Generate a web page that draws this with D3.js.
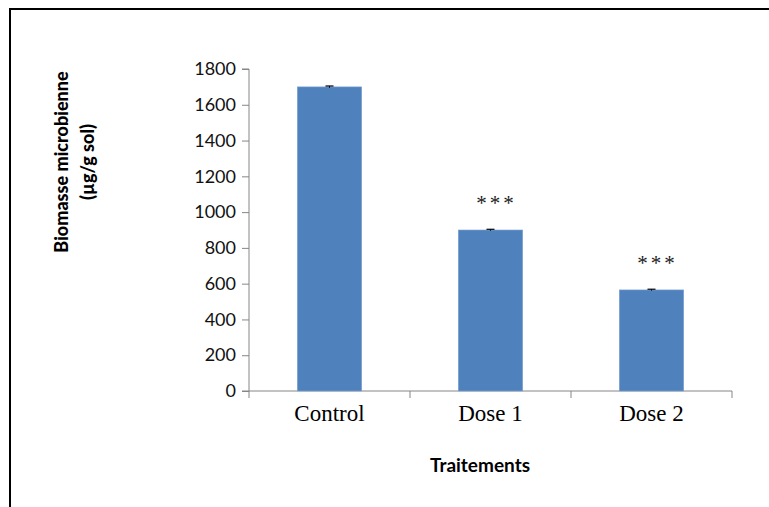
<!DOCTYPE html>
<html><head><meta charset="utf-8">
<script src="https://cdn.jsdelivr.net/npm/d3@7"></script>
<style>body{margin:0;background:#fff}svg{display:block}</style>
</head><body>
<svg id="c" width="769" height="507"></svg>
<script>
const categories = ["Control", "Dose 1", "Dose 2"];
const values = [1700, 900, 565];
const errors = [5, 4, 4];
const signif = ["", "***", "***"];
const yTicks = [0, 200, 400, 600, 800, 1000, 1200, 1400, 1600, 1800];

(function () {
const svg = d3.select("#c");
// outer frame
svg.append("rect").attr("x", 10).attr("y", 9).attr("width", 800).attr("height", 600)
  .attr("fill", "#fff").attr("stroke", "#000").attr("stroke-width", 2);

const pLeft = 249, pRight = 732, pTop = 69, pBottom = 391;
const x = d3.scaleBand().domain(categories).range([pLeft, pRight]).paddingInner(0.6).paddingOuter(0.3);
const y = d3.scaleLinear().domain([0, 1800]).range([pBottom, pTop]);

// y axis
const ya = svg.append("g").attr("transform", `translate(${pLeft},0)`)
  .call(d3.axisLeft(y).tickValues(yTicks).tickSize(7).tickPadding(6).tickFormat(d3.format("d")));
ya.select(".domain").attr("stroke", "#868686").attr("d", `M-7,${pTop}H0V${pBottom}`);
ya.selectAll(".tick line").attr("stroke", "#868686");
ya.selectAll(".tick text").attr("fill", "#111").style("font-family", "Lato, 'Open Sans', sans-serif").style("font-size", "18px");

// x axis with boundary ticks
const xb = svg.append("g");
xb.append("line").attr("x1", pLeft - 7).attr("x2", pRight).attr("y1", pBottom).attr("y2", pBottom).attr("stroke", "#868686");
const bounds = [pLeft].concat(categories.map(c => x(c) - x.step() * x.paddingInner() / 2 + x.step()));
bounds.forEach(b => xb.append("line").attr("x1", b).attr("x2", b).attr("y1", pBottom).attr("y2", pBottom + 7).attr("stroke", "#868686"));
xb.selectAll("text.cat").data(categories).enter().append("text").attr("class", "cat")
  .attr("x", d => x(d) + x.bandwidth() / 2).attr("y", pBottom + 30)
  .attr("text-anchor", "middle").style("font-family", "'Liberation Serif', serif").style("font-size", "23px").text(d => d);

// bars
svg.selectAll("rect.bar").data(values).enter().append("rect").attr("class", "bar")
  .attr("x", (d, i) => x(categories[i])).attr("width", x.bandwidth())
  .attr("y", d => y(d)).attr("height", d => pBottom - y(d))
  .attr("fill", "#4F81BD").attr("stroke", "#7FA3D3").attr("stroke-width", 0.6);

// error bars
values.forEach((v, i) => {
  const cx = x(categories[i]) + x.bandwidth() / 2;
  svg.append("line").attr("x1", cx - 4).attr("x2", cx + 4).attr("y1", y(v + errors[i])).attr("y2", y(v + errors[i])).attr("stroke", "#000").attr("stroke-width", 1.2);
  svg.append("line").attr("x1", cx).attr("x2", cx).attr("y1", y(v + errors[i])).attr("y2", y(v - errors[i])).attr("stroke", "#000");
});

// significance
svg.selectAll("text.sig").data(signif).enter().append("text").attr("class", "sig")
  .attr("x", (d, i) => x(categories[i]) + x.bandwidth() / 2 + 6).attr("y", (d, i) => y(values[i]) - 20)
  .attr("text-anchor", "middle").style("font-family", "'Liberation Serif', serif").style("font-size", "21px")
  .style("letter-spacing", "3px").attr("fill", "#222").text(d => d);

// axis titles
svg.append("text").attr("x", 480).attr("y", 472).attr("text-anchor", "middle")
  .style("font-family", "Lato, sans-serif").style("font-weight", "bold").style("font-size", "19px").text("Traitements");
const yt = svg.append("g").attr("transform", "translate(62,162) rotate(-90)");
yt.append("text").attr("x", 0).attr("y", 6).attr("text-anchor", "middle")
  .style("font-family", "Lato, sans-serif").style("font-weight", "900").style("font-size", "18px").text("Biomasse microbienne");
yt.append("text").attr("x", 0).attr("y", 32).attr("text-anchor", "middle")
  .style("font-family", "Lato, sans-serif").style("font-weight", "900").style("font-size", "18px").text("(µg/g sol)");
})();
</script>
</body></html>
